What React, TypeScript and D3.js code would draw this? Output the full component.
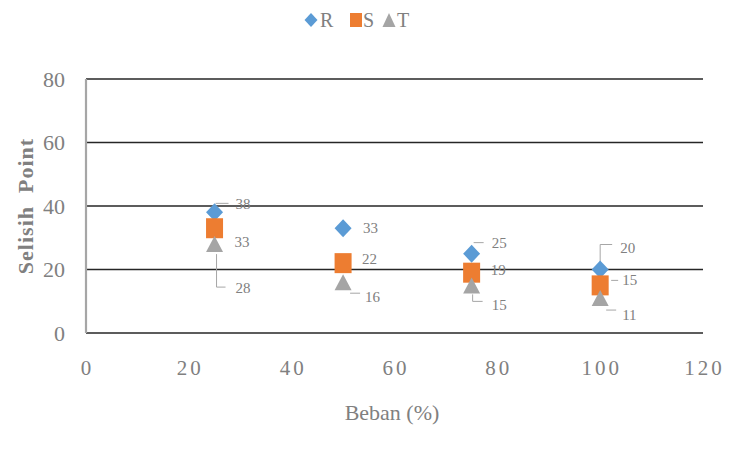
import React from "react";
import * as d3 from "d3";

const beban = [25, 50, 75, 100];
const seriesR = [38, 33, 25, 20];
const seriesS = [33, 22, 19, 15];
const seriesT = [28, 16, 15, 11];
const xTicks = [0, 20, 40, 60, 80, 100, 120];
const yTicks = [0, 20, 40, 60, 80];
const seriesNames = ["R", "S", "T"];
const seriesColors = ["#5B9BD5", "#ED7D31", "#A5A5A5"];

// label placement (layout only): dx, dy relative to marker, and leader polyline relative to marker
type Lab = { dx: number; dy: number; leader?: [number, number][] };
const labelLayout: Lab[][] = [
  [
    { dx: 21, dy: -9, leader: [[1, -9], [14, -9]] },
    { dx: 20, dy: 0 },
    { dx: 20, dy: -11, leader: [[2, -11], [12, -11]] },
    { dx: 20, dy: -22, leader: [[12, -25], [0, -25], [0, -4]] },
  ],
  [
    { dx: 20, dy: 14 },
    { dx: 19, dy: -4 },
    { dx: 19, dy: -3 },
    { dx: 22, dy: -6, leader: [[11, -5], [18, -5]] },
  ],
  [
    { dx: 21, dy: 44, leader: [[2, 10], [2, 43], [11, 43]] },
    { dx: 22, dy: 15, leader: [[7, 11], [17, 11]] },
    { dx: 20, dy: 19, leader: [[1, 9], [1, 16], [11, 16]] },
    { dx: 22, dy: 17, leader: [[6, 12], [16, 12]] },
  ],
];

const W = 732;
const H = 455;

function Marker({ kind, x, y, color, w, h }: { kind: number; x: number; y: number; color: string; w: number; h: number }) {
  if (kind === 0) {
    return (
      <path
        d={`M${x},${y - h / 2} L${x + w / 2},${y} L${x},${y + h / 2} L${x - w / 2},${y} Z`}
        fill={color}
      />
    );
  }
  if (kind === 1) {
    return <rect x={x - w / 2} y={y - h / 2} width={w} height={h} fill={color} />;
  }
  return (
    <path
      d={`M${x},${y - h / 2} L${x + w / 2},${y + h / 2} L${x - w / 2},${y + h / 2} Z`}
      fill={color}
    />
  );
}

const markerSizes: [number, number][] = [
  [17, 18],
  [17, 20],
  [17, 16],
];

export default function App() {
  const x = d3.scaleLinear().domain([0, 120]).range([86, 703]);
  const y = d3.scaleLinear().domain([0, 80]).range([333, 79]);
  const all = [seriesR, seriesS, seriesT];
  const textGrey = "#808080";
  const font = "'Liberation Serif', 'Times New Roman', serif";

  return (
    <svg width={W} height={H} style={{ display: "block", position: "absolute", left: 0, top: 0, background: "#fff" }}>
      <rect width={W} height={H} fill="#fff" />
      {/* gridlines */}
      {yTicks.map((t) => (
        <line key={t} x1={x(0)} x2={x(120)} y1={y(t)} y2={y(t)} stroke="#262626" strokeWidth={1.6} />
      ))}
      {/* y axis line */}
      <line x1={x(0)} x2={x(0)} y1={y(80)} y2={y(0)} stroke="#a6a6a6" strokeWidth={2.2} />
      {/* y tick labels */}
      {yTicks.map((t) => (
        <text key={t} x={65} y={y(t)} dy="0.35em" textAnchor="end" fontFamily={font} fontSize={22} fill={textGrey}>
          {t}
        </text>
      ))}
      {/* x tick labels */}
      {xTicks.map((t) => (
        <text key={t} x={x(t) + 1.5} y={368} dy="0.35em" textAnchor="middle" fontFamily={font} fontSize={21} letterSpacing={3} fill={textGrey}>
          {t}
        </text>
      ))}
      {/* axis titles */}
      <text x={392} y={412} dy="0.35em" textAnchor="middle" fontFamily={font} fontSize={22} fill={textGrey}>
        Beban (%)
      </text>
      <text
        transform={`translate(25,${y(40)}) rotate(-90)`}
        dy="0.35em"
        textAnchor="middle"
        fontFamily={font}
        fontSize={22}
        fontWeight="bold"
        letterSpacing={1}
        fill={textGrey}
        style={{ whiteSpace: "pre" }}
      >
        {"Selisih  Point"}
      </text>
      {/* leader lines */}
      {all.map((ser, si) =>
        ser.map((v, i) => {
          const L = labelLayout[si][i];
          if (!L.leader) return null;
          const px = x(beban[i]);
          const py = y(v);
          const pts = L.leader.map(([a, b]) => `${px + a},${py + b}`).join(" ");
          return <polyline key={`l${si}-${i}`} points={pts} fill="none" stroke="#a6a6a6" strokeWidth={1} />;
        })
      )}
      {/* markers */}
      {all.map((ser, si) =>
        ser.map((v, i) => (
          <Marker
            key={`m${si}-${i}`}
            kind={si}
            x={x(beban[i])}
            y={y(v)}
            color={seriesColors[si]}
            w={markerSizes[si][0]}
            h={markerSizes[si][1]}
          />
        ))
      )}
      {/* data labels */}
      {all.map((ser, si) =>
        ser.map((v, i) => {
          const L = labelLayout[si][i];
          return (
            <text
              key={`t${si}-${i}`}
              x={x(beban[i]) + L.dx}
              y={y(v) + L.dy}
              dy="0.35em"
              fontFamily={font}
              fontSize={15}
              fill={textGrey}
            >
              {v}
            </text>
          );
        })
      )}
      {/* legend */}
      <g>
        <Marker kind={0} x={311} y={20} color={seriesColors[0]} w={13} h={14} />
        <text x={320} y={20} dy="0.35em" fontFamily={font} fontSize={20} fill={textGrey}>{seriesNames[0]}</text>
        <Marker kind={1} x={356} y={20} color={seriesColors[1]} w={12} h={14} />
        <text x={363} y={20} dy="0.35em" fontFamily={font} fontSize={20} fill={textGrey}>{seriesNames[1]}</text>
        <Marker kind={2} x={389} y={20} color={seriesColors[2]} w={13} h={14} />
        <text x={397} y={20} dy="0.35em" fontFamily={font} fontSize={20} fill={textGrey}>{seriesNames[2]}</text>
      </g>
    </svg>
  );
}
